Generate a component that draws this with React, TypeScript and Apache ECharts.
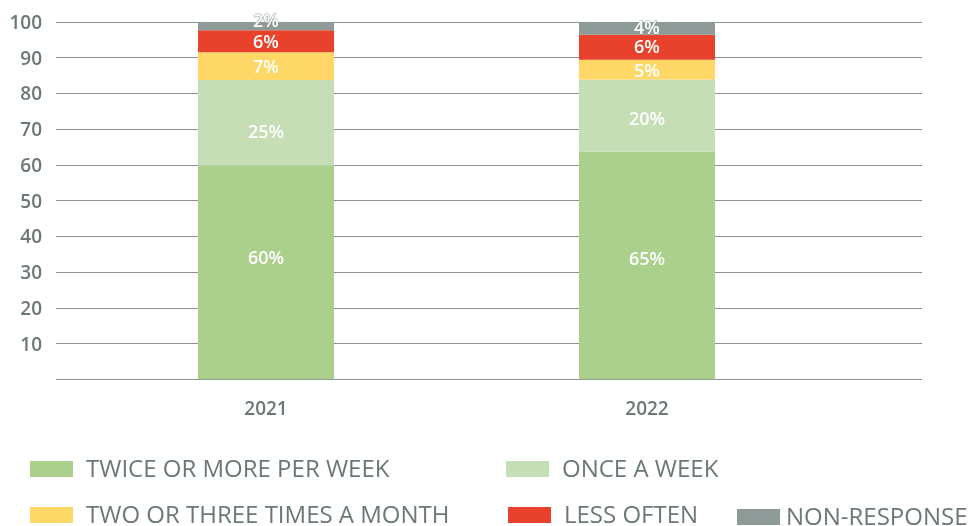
import React, { useEffect, useRef } from "react";
import * as echarts from "echarts";

const years = ["2021", "2022"];
const seriesNames = [
  "TWICE OR MORE PER WEEK",
  "ONCE A WEEK",
  "TWO OR THREE TIMES A MONTH",
  "LESS OFTEN",
  "NON-RESPONSE",
];
// heights
const twiceOrMore = [59.8, 63.7];
const onceAWeek = [24.0, 20.2];
const twoOrThree = [7.7, 5.5];
const lessOften = [6.2, 7.0];
const nonResponse = [2.3, 3.6];
// printed labels
const twiceLabels = ["60%", "65%"];
const onceLabels = ["25%", "20%"];
const twoThreeLabels = ["7%", "5%"];
const lessLabels = ["6%", "6%"];
const nonLabels = ["2%", "4%"];
const yTicks = [0, 10, 20, 30, 40, 50, 60, 70, 80, 90, 100];

const COLORS = ["#abd08c", "#c5deb5", "#fed766", "#e8412c", "#8e9a98"];
const LABEL_DY = [[-15, -8], [8, 2], [0, 0], [0, -1], [-6, -1]];
const TEXT = "#6b7875";
const FONT = "'Open Sans', 'Noto Sans', sans-serif";

export default function App() {
  const ref = useRef<HTMLDivElement>(null);
  useEffect(() => {
    if (!ref.current) return;
    const chart = echarts.init(ref.current, undefined, { renderer: "svg" });
    const values = [twiceOrMore, onceAWeek, twoOrThree, lessOften, nonResponse];
    const labels = [twiceLabels, onceLabels, twoThreeLabels, lessLabels, nonLabels];
    const series = values.map((vals, si) => ({
      name: seriesNames[si],
      type: "bar",
      stack: "total",
      xAxisIndex: 1,
      yAxisIndex: 1,
      barWidth: 136,
      itemStyle: { color: COLORS[si] },
      data: vals.map((v, i) => ({
        value: v,
        label: {
          show: true,
          position: "inside",
          formatter: labels[si][i],
          offset: [0, LABEL_DY[si][i]],
          color: "#ffffff",
          fontFamily: FONT,
          fontSize: 18,
          fontWeight: 600,
          textBorderColor: si === 4 ? "#8e9a98" : "transparent",
          textBorderWidth: si === 4 ? 1 : 0,
        },
      })),
    }));

    const legendItems = [
      { x: 30, y: 461, tx: 86, ty: 467 },
      { x: 506, y: 461, tx: 562, ty: 467 },
      { x: 30, y: 507, tx: 86, ty: 513 },
      { x: 508, y: 507, tx: 564, ty: 513 },
      { x: 737, y: 509, tx: 786, ty: 515 },
    ];
    const graphic: any[] = [];
    legendItems.forEach((p, i) => {
      graphic.push({
        type: "rect",
        left: p.x,
        top: p.y,
        shape: { width: 43, height: 16 },
        style: { fill: COLORS[i] },
      });
      graphic.push({
        type: "text",
        x: p.tx,
        y: p.ty,
        style: {
          text: seriesNames[i],
          fill: TEXT,
          fontFamily: FONT,
          fontSize: 24,
          fontWeight: 400,
          lineHeight: 20,
          verticalAlign: "middle",
          align: "left",
        },
      });
    });

    chart.setOption({
      animation: false,
      grid: [
        { left: 56, right: 52, top: 22, bottom: 146.7 },
        { left: 75.5, width: 762, top: 22, bottom: 146.7 },
      ],
      xAxis: [
        { type: "value", gridIndex: 0, show: false, min: 0, max: 1 },
        {
          type: "category",
          gridIndex: 1,
          data: years,
          axisLine: { show: false },
          axisTick: { show: false },
          axisLabel: {
            color: TEXT,
            fontFamily: FONT,
            fontSize: 19,
            fontWeight: 600,
            margin: 19,
          },
        },
      ],
      yAxis: [
        {
          type: "value",
          gridIndex: 0,
          min: yTicks[0],
          max: yTicks[yTicks.length - 1],
          interval: 10,
          axisLine: { show: false },
          axisTick: { show: false },
          axisLabel: {
            formatter: (v: number) => (v === 0 ? "" : String(v)),
            color: TEXT,
            fontFamily: FONT,
            fontSize: 19,
            fontWeight: 600,
            margin: 14,
          },
          splitLine: { show: true, lineStyle: { color: "#8a928f", width: 1 } },
        },
        { type: "value", gridIndex: 1, min: 0, max: 100, show: false },
      ],
      series,
      graphic,
    });
    return () => chart.dispose();
  }, []);
  return (
    <div
      ref={ref}
      style={{ width: 974, height: 526, position: "fixed", left: 0, top: 0 }}
    />
  );
}
